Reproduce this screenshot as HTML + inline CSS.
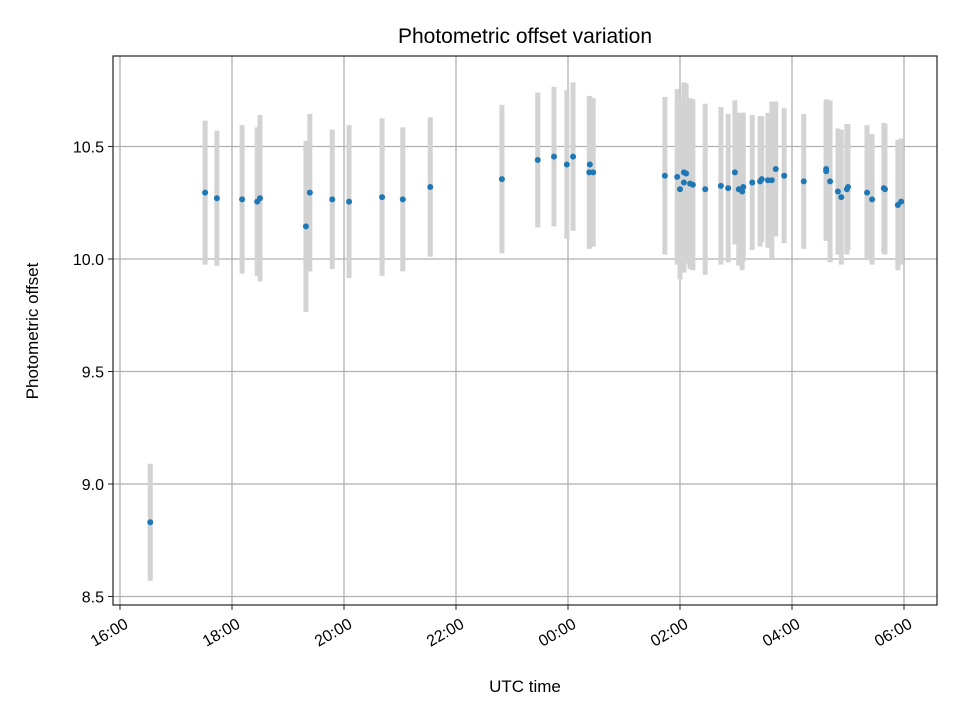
<!DOCTYPE html>
<html><head><meta charset="utf-8"><style>
body{margin:0;background:#fff}
svg text{font-family:"Liberation Sans","DejaVu Sans",sans-serif;fill:#000}
</style></head><body>
<svg id="chart" width="960" height="720" xmlns="http://www.w3.org/2000/svg">
<rect x="0" y="0" width="960" height="720" fill="#fff"/>
<text x="525" y="43" font-size="21" text-anchor="middle">Photometric offset variation</text>
<g id="grid"></g>
<g id="errs"></g>
<g id="pts"></g>
<rect x="113" y="56" width="824" height="549" fill="none" stroke="#222" stroke-width="1.2"/>
<g id="axes"></g>
<text x="525" y="692" font-size="17" text-anchor="middle">UTC time</text>
<text transform="translate(38,331) rotate(-90)" font-size="17" text-anchor="middle">Photometric offset</text>
</svg>
<script>
// hours after 16:00 UTC
const hours=[0.54,1.52,1.73,2.18,2.45,2.5,3.32,3.39,3.79,4.09,4.68,5.05,5.54,6.82,7.46,7.75,7.98,8.09,8.38,8.39,8.45,9.73,9.95,10.0,10.07,10.11,10.07,10.18,10.23,10.45,10.73,10.86,10.98,11.05,11.11,11.13,11.29,11.43,11.46,11.57,11.64,11.71,11.86,12.21,12.61,12.61,12.68,12.82,12.88,12.98,13.0,13.34,13.43,13.64,13.66,13.89,13.95];
const offsets=[8.83,10.295,10.27,10.265,10.255,10.27,10.145,10.295,10.265,10.255,10.275,10.265,10.32,10.355,10.44,10.455,10.42,10.455,10.385,10.42,10.385,10.37,10.365,10.31,10.385,10.38,10.34,10.335,10.33,10.31,10.325,10.315,10.385,10.31,10.30,10.32,10.34,10.345,10.355,10.35,10.35,10.40,10.37,10.345,10.40,10.39,10.345,10.30,10.275,10.31,10.32,10.295,10.265,10.315,10.31,10.24,10.255];
const errors=[0.26,0.32,0.30,0.33,0.33,0.37,0.38,0.35,0.31,0.34,0.35,0.32,0.31,0.33,0.30,0.31,0.33,0.33,0.34,0.30,0.33,0.35,0.39,0.40,0.40,0.40,0.40,0.38,0.38,0.38,0.35,0.33,0.32,0.34,0.35,0.33,0.30,0.29,0.28,0.30,0.35,0.30,0.30,0.30,0.31,0.31,0.36,0.28,0.30,0.29,0.28,0.30,0.29,0.29,0.29,0.29,0.28];
const xTickLabels=["16:00","18:00","20:00","22:00","00:00","02:00","04:00","06:00"];
const yTicks=[8.5,9.0,9.5,10.0,10.5];
const NS="http://www.w3.org/2000/svg";
function X(h){return 120+56*h;}
function Y(v){return 259-(v-10)*225;}
function mk(tag,attrs,parent){const e=document.createElementNS(NS,tag);for(const k in attrs)e.setAttribute(k,attrs[k]);document.getElementById(parent).appendChild(e);return e;}
yTicks.forEach(v=>{
  const y=Y(v);
  const g=mk('line',{x1:113,x2:937,y1:y,y2:y,stroke:'#b0b0b0','stroke-width':1.3},'grid');
  
  
  const t=mk('line',{x1:108,x2:113,y1:y,y2:y,stroke:'#222','stroke-width':1},'axes');
  
  
  const l=mk('text',{x:104,y:y+6,'font-size':16,'text-anchor':'end'},'axes');
  l.textContent=v.toFixed(1);
  
  
});
xTickLabels.forEach((s,i)=>{
  const x=X(i*2);
  const g=mk('line',{x1:x,x2:x,y1:56,y2:605,stroke:'#b0b0b0','stroke-width':1.3},'grid');
  
  
  const t=mk('line',{x1:x,x2:x,y1:605,y2:610,stroke:'#222','stroke-width':1},'axes');
  
  
  const l=mk('text',{transform:`translate(${x+4},${618}) rotate(-30)`,'font-size':16,'text-anchor':'end','dominant-baseline':'hanging'},'axes');
  l.textContent=s;
  
  
});
hours.forEach((h,i)=>{
  const x=X(h);
  const e=mk('line',{x1:x,x2:x,y1:Y(offsets[i]+errors[i]),y2:Y(offsets[i]-errors[i]),stroke:'#d3d3d3','stroke-width':5},'errs');
  
  
});
hours.forEach((h,i)=>{
  const p=mk('circle',{cx:X(h),cy:Y(offsets[i]),r:3,fill:'#1f77b4'},'pts');
  
  
});
</script>
</body></html>
